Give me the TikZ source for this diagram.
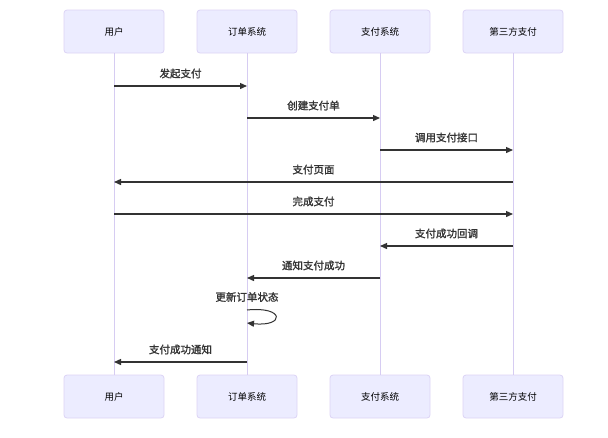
\documentclass[tikz,border=0pt]{standalone}
\usepackage{fontspec}
\setmainfont{Noto Sans CJK SC}
\newfontfamily\msgfont{Noto Sans CJK SC}[FakeBold=1.5]
\usetikzlibrary{arrows.meta}
\definecolor{boxfill}{HTML}{ECECFF}
\definecolor{boxline}{HTML}{DCD3F5}
\definecolor{lifeline}{HTML}{D6CCF2}
\definecolor{msgline}{HTML}{333333}
\begin{document}
\begin{tikzpicture}[x=1pt,y=-1pt,
  actor/.style={draw=boxline,fill=boxfill,rounded corners=3pt,minimum width=100pt,minimum height=43pt,inner sep=0pt,font=\fontsize{9.5}{11}\selectfont,text=black,line width=0.8pt},
  life/.style={draw=lifeline,line width=0.9pt},
  msg/.style={draw=msgline,line width=1.3pt,-{Triangle[length=7pt,width=6pt]}},
  lbl/.style={font=\msgfont\fontsize{10.5}{12}\selectfont,text=msgline,inner sep=0pt}]
\useasboundingbox (0,0) rectangle (608,437);
% participants
\node[actor] (u1) at (114,31.5) {用户};
\node[actor] (o1) at (247,31.5) {订单系统};
\node[actor] (p1) at (380,31.5) {支付系统};
\node[actor] (t1) at (513,31.5) {第三方支付};
\node[actor] (u2) at (114,396.5) {用户};
\node[actor] (o2) at (247,396.5) {订单系统};
\node[actor] (p2) at (380,396.5) {支付系统};
\node[actor] (t2) at (513,396.5) {第三方支付};
% lifelines
\draw[life] (u1.south) -- (u2.north);
\draw[life] (o1.south) -- (o2.north);
\draw[life] (p1.south) -- (p2.north);
\draw[life] (t1.south) -- (t2.north);
% message points
\foreach \n/\y in {1/86,2/118,3/150,4/182,5/214,6/246,7/278,8/310,9/323,10/362}{
  \coordinate (u\n) at (114,\y);
  \coordinate (o\n) at (247,\y);
  \coordinate (p\n) at (380,\y);
  \coordinate (t\n) at (513,\y);
}
\draw[msg] (u1) -- node[lbl,above=7pt]{发起支付} (o1);
\draw[msg] (o2) -- node[lbl,above=7pt]{创建支付单} (p2);
\draw[msg] (p3) -- node[lbl,above=7pt]{调用支付接口} (t3);
\draw[msg] (t4) -- node[lbl,above=7pt]{支付页面} (u4);
\draw[msg] (u5) -- node[lbl,above=7pt]{完成支付} (t5);
\draw[msg] (t6) -- node[lbl,above=7pt]{支付成功回调} (p6);
\draw[msg] (p7) -- node[lbl,above=7pt]{通知支付成功} (o7);
\node[lbl] (selflbl) at (247,297) {更新订单状态};
\draw[msgline,line width=1pt,-{Triangle[length=7pt,width=6pt]}] (o8) .. controls (285,306) and (285,327) .. (o9);
\draw[msg] (o10) -- node[lbl,above=7pt]{支付成功通知} (u10);
\end{tikzpicture}
\end{document}
